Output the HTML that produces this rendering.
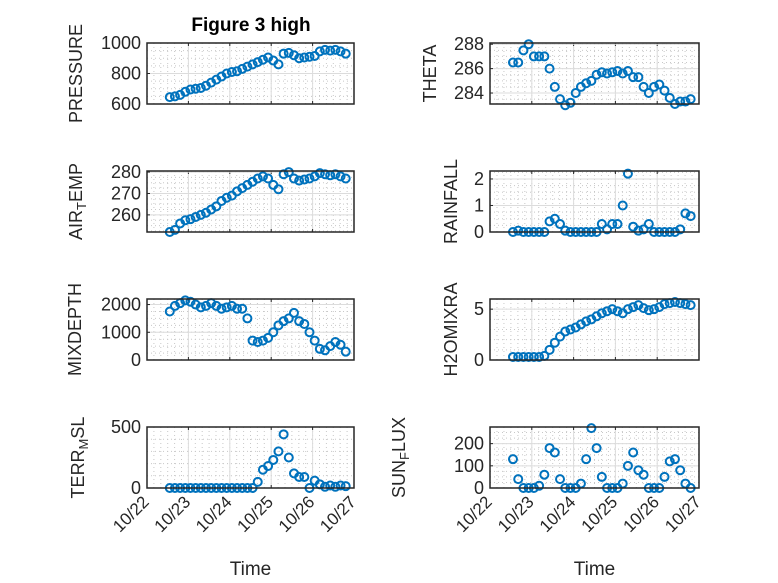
<!DOCTYPE html>
<html><head><meta charset="utf-8">
<style>
html,body{margin:0;padding:0;background:#fff;}
svg{display:block;font-family:"Liberation Sans","DejaVu Sans",sans-serif;}
</style></head>
<body>
<svg id="fig" width="778" height="583" viewBox="0 0 778 583" xmlns="http://www.w3.org/2000/svg">
<rect width="778" height="583" fill="#fff"/>
<text x="251" y="31" text-anchor="middle" font-size="19" font-weight="bold" fill="#000">Figure 3 high</text>
</svg>
<script>
const times = [0.55,0.675,0.8,0.925,1.05,1.175,1.3,1.425,1.55,1.675,1.8,1.925,2.05,2.175,2.3,2.425,2.55,2.675,2.8,2.925,3.05,3.175,3.3,3.425,3.55,3.675,3.8,3.925,4.05,4.175,4.3,4.425,4.55,4.675,4.8];
const xTickLabels = ["10/22","10/23","10/24","10/25","10/26","10/27"];
const pressure = [645,650,660,680,695,700,705,720,740,760,780,800,810,815,830,845,860,875,890,905,885,860,930,935,920,900,905,910,915,945,955,950,955,945,930];
const theta = [286.5,286.5,287.5,288,287,287,287,286,284.5,283.5,283,283.2,284,284.5,284.8,285,285.5,285.7,285.6,285.7,285.8,285.6,285.8,285.3,285.3,284.5,284.0,284.5,284.7,284.2,283.6,283.1,283.3,283.3,283.5];
const airTemp = [252,253,256,257.5,258,259,260,261,262.5,264,266.5,268,269,271,272.5,274,275.5,277,278,277,274,272,279,280,277,276,276.5,277,278,279.5,279,278.5,279,278,277];
const rainfall = [0,0.05,0,0,0,0,0,0.4,0.5,0.3,0.05,0,0,0,0,0,0,0.3,0.1,0.3,0.3,1.0,2.2,0.2,0.05,0.1,0.3,0,0,0,0,0,0.1,0.7,0.6];
const mixDepth = [1750,1950,2050,2150,2100,2000,1900,1950,2050,1950,1850,1900,1950,1850,1850,1500,700,650,700,800,1000,1250,1400,1500,1700,1400,1300,1000,700,400,350,500,650,550,300];
const h2oMix = [0.3,0.3,0.3,0.3,0.3,0.3,0.4,1.0,1.7,2.3,2.8,3.0,3.2,3.5,3.8,4.0,4.3,4.6,4.8,5.0,4.8,4.6,5.0,5.2,5.4,5.1,4.9,5.0,5.2,5.5,5.6,5.7,5.6,5.5,5.4];
const terrMsl = [0,0,0,0,0,0,0,0,0,0,0,0,0,0,0,0,0,50,150,180,230,300,440,250,120,90,90,0,60,30,10,20,10,20,15];
const sunFlux = [130,40,0,0,0,10,60,180,160,40,0,0,0,20,130,270,180,50,0,0,0,20,100,160,80,60,0,0,0,50,120,130,80,20,0];

const pressureTicks = [600,800,1000];
const thetaTicks = [284,286,288];
const airTempTicks = [260,270,280];
const rainTicks = [0,1,2];
const mixTicks = [0,1000,2000];
const h2oTicks = [0,5];
const terrTicks = [0,500];
const sunTicks = [0,100,200];

const NS = "http://www.w3.org/2000/svg";
const svg = document.getElementById("fig");
function mk(tag, attrs, parent){
  const e = document.createElementNS(NS, tag);
  for (const k in attrs) e.setAttribute(k, attrs[k]);
  (parent||svg).appendChild(e);
  return e;
}
const COLS = [{x0:147,x1:354},{x0:490,x1:699}];
const ROWS = [43,171,299,427];
const H = 61;

const panels = [
  {name:"pressure",col:0,row:0,data:pressure,ylim:[600,1000],ticks:pressureTicks,minor:50,label:["PRESSURE"],lx:77},
  {name:"theta",col:1,row:0,data:theta,ylim:[283.1,288.1],ticks:thetaTicks,minor:0.5,label:["THETA"],lx:431},
  {name:"air-temp",col:0,row:1,data:airTemp,ylim:[252,280.5],ticks:airTempTicks,minor:2.5,label:["AIR","T","EMP"],lx:77},
  {name:"rainfall",col:1,row:1,data:rainfall,ylim:[0,2.3],ticks:rainTicks,minor:0.25,label:["RAINFALL"],lx:452},
  {name:"mix-depth",col:0,row:2,data:mixDepth,ylim:[0,2200],ticks:mixTicks,minor:250,label:["MIXDEPTH"],lx:76},
  {name:"h2o-mixratio",col:1,row:2,data:h2oMix,ylim:[0,6],ticks:h2oTicks,minor:1,label:["H2OMIXRA"],lx:452},
  {name:"terr-msl",col:0,row:3,data:terrMsl,ylim:[0,500],ticks:terrTicks,minor:100,label:["TERR","M","SL"],lx:79},
  {name:"sun-flux",col:1,row:3,data:sunFlux,ylim:[0,275],ticks:sunTicks,minor:25,label:["SUN","F","LUX"],lx:400}
];

panels.forEach(p => {
  const x0 = COLS[p.col].x0, x1 = COLS[p.col].x1;
  const y0 = ROWS[p.row], y1 = y0 + H;
  const xs = d => x0 + (d - 0) / 5 * (x1 - x0);
  const ys = v => y1 - (v - p.ylim[0]) / (p.ylim[1] - p.ylim[0]) * (y1 - y0);
  const g = mk("g", {});
  
  
  for (let d = 0; d <= 5.0001; d += 1/6) {
    const x = xs(d);
    mk("line",{x1:x,x2:x,y1:y0,y2:y1,stroke:"#c8c8c8","stroke-width":1,"stroke-dasharray":"1 3"},g);
  }
  const mstart = Math.ceil(p.ylim[0]/p.minor)*p.minor;
  for (let v = mstart; v <= p.ylim[1]+1e-9; v += p.minor) {
    const y = ys(v);
    mk("line",{x1:x0,x2:x1,y1:y,y2:y,stroke:"#c8c8c8","stroke-width":1,"stroke-dasharray":"1 3"},g);
  }
  for (let i = 0; i < xTickLabels.length; i++) {
    const x = xs(i);
    mk("line",{x1:x,x2:x,y1:y0,y2:y1,stroke:"#dcdcdc","stroke-width":1},g);
    mk("line",{x1:x,x2:x,y1:y1,y2:y1-3,stroke:"#262626","stroke-width":1},g);
    mk("line",{x1:x,x2:x,y1:y0,y2:y0+3,stroke:"#262626","stroke-width":1},g);
  }
  p.ticks.forEach(v => {
    const y = ys(v);
    mk("line",{x1:x0,x2:x1,y1:y,y2:y,stroke:"#dcdcdc","stroke-width":1},g);
    mk("line",{x1:x0,x2:x0+3,y1:y,y2:y,stroke:"#262626","stroke-width":1},g);
    const t = mk("text",{x:x0-6,y:y+6,"text-anchor":"end","font-size":18,fill:"#262626"},g);
    t.textContent = String(v);
    
    
  });
  p.data.forEach((v,i) => {
    const c = mk("circle",{cx:xs(times[i]),cy:ys(v),r:4,fill:"none",stroke:"#0072BD","stroke-width":2},g);
    
    
  });
  const b = mk("rect",{x:x0,y:y0,width:x1-x0,height:H,fill:"none",stroke:"#262626","stroke-width":1.5},g);
  
  
  const cy = (y0+y1)/2;
  const lab = mk("text",{x:p.lx,y:cy,"text-anchor":"middle","font-size":18,fill:"#262626",transform:`rotate(-90 ${p.lx} ${cy})`,"dominant-baseline":"middle"},g);
  
  
  if (p.label.length === 1) lab.textContent = p.label[0];
  else {
    const a = mk("tspan",{},lab); a.textContent = p.label[0];
    const s = mk("tspan",{"font-size":13,dy:6},lab); s.textContent = p.label[1];
    const c2 = mk("tspan",{dy:-6},lab); c2.textContent = p.label[2];
  }
  if (p.row === 3) {
    xTickLabels.forEach((s,i) => {
      const x = xs(i)+3, y = y1 + 15;
      const t = mk("text",{x:x,y:y,"text-anchor":"end","font-size":17,fill:"#262626",transform:`rotate(-45 ${x} ${y})`},g);
      t.textContent = s;
      
      
    });
    const xt = mk("text",{x:(x0+x1)/2,y:575,"text-anchor":"middle","font-size":19,fill:"#262626"},g);
    xt.textContent = "Time";
    
    
  }
});
</script>
</body></html>
